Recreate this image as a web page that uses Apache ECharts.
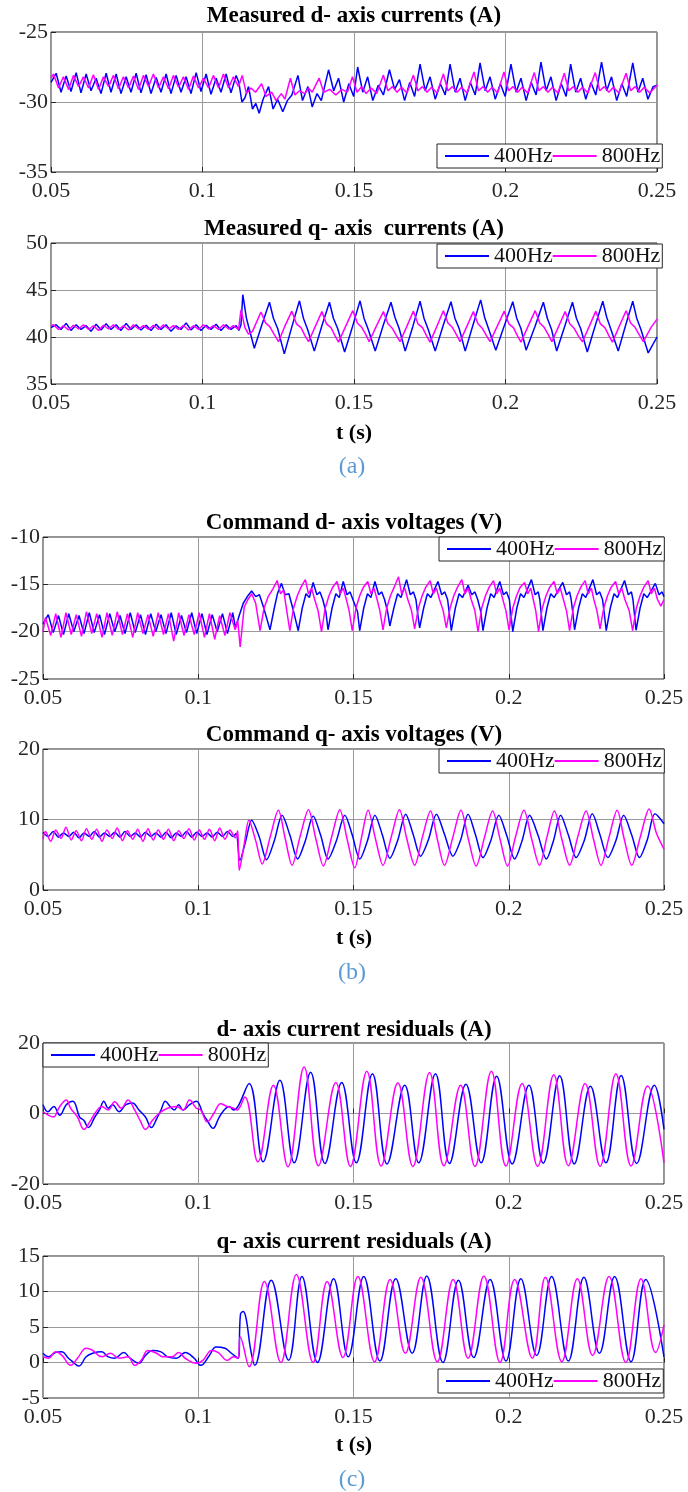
<!DOCTYPE html>
<html>
<head>
<meta charset="utf-8">
<script src="https://cdn.jsdelivr.net/npm/echarts@6/dist/echarts.min.js"></script>
<style>
  html, body { margin: 0; padding: 0; background: #fff; }
  #chart { width: 688px; height: 1492px; }
</style>
</head>
<body>
<div id="chart"></div>
<script>
// ---- data: [t (s), value] ----
const xTickLabels = ['0.05', '0.1', '0.15', '0.2', '0.25'];
const seriesNames = ['400Hz', '800Hz'];
const panelTitles = [
  'Measured d- axis currents (A)',
  'Measured q- axis  currents (A)',
  'Command d- axis voltages (V)',
  'Command q- axis voltages (V)',
  'd- axis current residuals (A)',
  'q- axis current residuals (A)'
];
// [min, max, step] of each y axis
const yTicks = [[-35, -25, 5], [35, 50, 5], [-25, -10, 5], [0, 20, 10], [-20, 20, 20], [-5, 15, 5]];

// (a) measured d-axis current
const dMeas400 = [[0.0500,-28.6],[0.0517,-27.95],[0.0533,-29.3],[0.0550,-28.15],[0.0566,-29.25],[0.0583,-27.9],[0.0599,-29.35],[0.0616,-28.0],[0.0632,-29.2],[0.0649,-28.3],[0.0665,-29.4],[0.0682,-27.95],[0.0698,-29.3],[0.0715,-28.0],[0.0731,-29.4],[0.0748,-28.2],[0.0764,-29.3],[0.0781,-27.95],[0.0797,-29.35],[0.0814,-28.05],[0.0830,-29.4],[0.0847,-28.25],[0.0863,-29.3],[0.0880,-28.0],[0.0896,-29.4],[0.0913,-28.1],[0.0929,-29.3],[0.0946,-28.2],[0.0962,-29.4],[0.0979,-27.9],[0.0995,-29.25],[0.1012,-28.0],[0.1028,-29.45],[0.1045,-28.3],[0.1061,-29.3],[0.1078,-28.0],[0.1094,-29.35],[0.1111,-28.1],[0.1120,-28.6],
  [0.1130,-30.0],[0.1140,-29.7],[0.1152,-28.9],[0.1165,-30.5],[0.1176,-30.1],[0.1187,-30.8],[0.1200,-29.8],[0.1218,-28.9],[0.1233,-30.5],[0.1248,-29.8],[0.1265,-30.7],[0.1280,-29.9],[0.1295,-29.5],[0.1315,-28.1],[0.1330,-29.9],[0.1348,-28.9],[0.1362,-30.35],[0.1378,-29.4],[0.1392,-29.9],
  [0.1416,-27.7],[0.1433,-29.2],[0.1449,-28.3],[0.1466,-30.0],[0.1483,-28.7],[0.1499,-29.6],
  [0.1512,-27.5],[0.1529,-29.3],[0.1545,-28.2],[0.1562,-29.9],[0.1580,-28.8],[0.1597,-29.5],
  [0.1617,-27.7],[0.1634,-29.1],[0.1650,-28.4],[0.1667,-29.9],[0.1684,-28.6],[0.1700,-29.6],
  [0.1718,-27.3],[0.1735,-29.2],[0.1751,-28.2],[0.1768,-29.8],[0.1785,-28.7],[0.1801,-29.5],
  [0.1817,-27.3],[0.1834,-29.3],[0.1850,-28.3],[0.1867,-29.9],[0.1884,-28.6],[0.1900,-29.5],
  [0.1916,-27.2],[0.1933,-29.2],[0.1949,-28.2],[0.1966,-29.8],[0.1983,-28.7],[0.1999,-29.6],
  [0.2018,-27.3],[0.2035,-29.3],[0.2051,-28.3],[0.2068,-29.9],[0.2085,-28.6],[0.2101,-29.5],
  [0.2117,-27.15],[0.2134,-29.2],[0.2150,-28.2],[0.2167,-29.9],[0.2184,-28.7],[0.2200,-29.6],
  [0.2215,-27.3],[0.2232,-29.3],[0.2248,-28.3],[0.2265,-29.8],[0.2282,-28.6],[0.2298,-29.5],
  [0.2317,-27.15],[0.2334,-29.2],[0.2350,-28.2],[0.2367,-29.9],[0.2384,-28.7],[0.2400,-29.6],
  [0.2420,-27.2],[0.2437,-29.3],[0.2453,-28.3],[0.2470,-29.8],[0.2487,-28.9],[0.2500,-28.8]];
const dMeas800 = [[0.0500,-28.3],[0.0508,-28.0],[0.0525,-29.0],[0.0541,-28.2],[0.0558,-29.1],[0.0574,-28.1],[0.0591,-28.9],[0.0607,-28.2],[0.0624,-29.0],[0.0640,-28.05],[0.0657,-29.1],[0.0673,-28.2],[0.0690,-28.9],[0.0706,-28.1],[0.0723,-29.05],[0.0739,-28.2],[0.0756,-29.0],[0.0772,-28.15],[0.0789,-29.1],[0.0805,-28.1],[0.0822,-28.9],[0.0838,-28.0],[0.0855,-29.0],[0.0871,-28.2],[0.0888,-29.05],[0.0904,-28.1],[0.0921,-28.95],[0.0937,-28.2],[0.0954,-29.1],[0.0970,-28.15],[0.0987,-29.0],[0.1003,-28.3],[0.1020,-29.0],[0.1036,-28.1],[0.1053,-29.0],[0.1069,-28.0],[0.1086,-29.0],[0.1102,-28.2],[0.1119,-28.9],[0.1131,-28.1],
  [0.1145,-29.4],[0.1160,-29.0],[0.1175,-29.3],[0.1195,-28.7],[0.1210,-29.6],[0.1228,-29.3],[0.1243,-29.9],[0.1260,-29.4],[0.1272,-29.8],[0.1290,-28.3],[0.1305,-29.5],[0.1320,-29.2],[0.1338,-29.4],[0.1350,-29.0],[0.1362,-29.3],[0.1385,-28.3],[0.1400,-29.3],[0.1420,-29.1],[0.1440,-29.5],[0.1460,-29.1],[0.1478,-29.3],[0.1495,-28.2],
  [0.1510,-29.3],[0.1525,-28.9],[0.1540,-29.4],[0.1557,-29.0],[0.1575,-29.4],
  [0.1597,-28.08],[0.1612,-29.2],[0.1627,-28.9],[0.1642,-29.3],[0.1657,-28.95],[0.1675,-29.35],
  [0.1696,-28.08],[0.1711,-29.2],[0.1726,-28.9],[0.1741,-29.3],[0.1756,-28.95],[0.1774,-29.35],
  [0.1795,-28.0],[0.1810,-29.2],[0.1825,-28.9],[0.1840,-29.3],[0.1855,-28.95],[0.1873,-29.35],
  [0.1896,-27.85],[0.1911,-29.2],[0.1926,-28.9],[0.1941,-29.3],[0.1956,-28.95],[0.1974,-29.35],
  [0.1995,-27.85],[0.2010,-29.2],[0.2025,-28.9],[0.2040,-29.3],[0.2055,-28.95],[0.2073,-29.35],
  [0.2095,-27.9],[0.2110,-29.2],[0.2125,-28.9],[0.2140,-29.3],[0.2155,-28.95],[0.2173,-29.35],
  [0.2194,-27.95],[0.2209,-29.2],[0.2224,-28.9],[0.2239,-29.3],[0.2254,-28.95],[0.2272,-29.35],
  [0.2296,-27.9],[0.2311,-29.2],[0.2326,-28.9],[0.2341,-29.3],[0.2356,-28.95],[0.2374,-29.35],
  [0.2398,-27.95],[0.2413,-29.2],[0.2428,-28.9],[0.2443,-29.3],[0.2458,-28.95],[0.2476,-29.35],[0.2500,-28.8]];

// (a) measured q-axis current
const qMeas400 = [[0.0500,41.0],[0.0517,41.3],[0.0533,40.8],[0.0550,41.45],[0.0566,40.7],[0.0583,41.3],[0.0599,40.8],[0.0616,41.2],[0.0632,40.6],[0.0649,41.35],[0.0665,40.75],[0.0682,41.4],[0.0698,40.8],[0.0715,41.3],[0.0731,40.7],[0.0748,41.45],[0.0764,40.8],[0.0781,41.3],[0.0797,40.75],[0.0814,41.25],[0.0830,40.7],[0.0847,41.35],[0.0863,40.8],[0.0880,41.3],[0.0896,40.6],[0.0913,41.2],[0.0929,40.8],[0.0946,41.5],[0.0962,40.75],[0.0979,41.3],[0.0995,40.7],[0.1012,41.25],[0.1028,40.8],[0.1045,41.35],[0.1061,40.7],[0.1078,41.3],[0.1094,40.8],[0.1111,41.2],[0.1120,40.7],[0.1127,41.3],
  [0.1133,44.5],[0.1145,42.0],[0.1158,40.4],[0.1171,38.8],[0.1196,41.3],[0.1221,43.7],[0.1234,42.0],[0.1248,40.9],[0.1270,38.2],[0.1295,41.1],[0.1320,43.85],[0.1333,42.0],[0.1347,40.8],
  [0.1369,38.5],[0.1394,41.2],[0.1419,43.7],[0.1432,42.0],[0.1446,40.9],[0.1469,38.4],[0.1495,41.1],[0.1520,43.85],[0.1533,42.0],[0.1547,40.8],[0.1570,38.5],[0.1596,41.2],[0.1622,43.7],[0.1635,42.1],[0.1649,40.9],[0.1669,38.5],[0.1694,41.1],[0.1718,43.8],[0.1731,42.0],[0.1745,40.8],[0.1768,38.5],[0.1794,41.2],[0.1820,43.75],[0.1833,42.0],[0.1847,40.9],[0.1867,38.5],[0.1893,41.3],[0.1918,43.95],[0.1931,42.1],[0.1945,40.8],[0.1968,38.6],[0.1996,41.2],[0.2024,43.75],[0.2037,42.0],[0.2051,40.9],[0.2068,38.6],[0.2097,41.1],[0.2125,43.7],[0.2138,42.0],[0.2152,40.8],[0.2169,38.5],[0.2195,41.1],[0.2221,43.7],[0.2234,42.0],[0.2248,40.9],[0.2270,38.4],[0.2296,41.2],[0.2321,43.8],[0.2334,42.1],[0.2348,40.8],[0.2372,38.5],[0.2396,41.2],[0.2420,43.8],[0.2433,42.0],[0.2447,40.8],[0.2471,38.3],[0.2500,40.0]];
const qMeas800 = [[0.0500,41.2],[0.0508,41.3],[0.0525,40.8],[0.0541,41.2],[0.0558,40.75],[0.0574,41.25],[0.0591,40.85],[0.0607,41.3],[0.0624,40.8],[0.0640,41.2],[0.0657,40.7],[0.0673,41.25],[0.0690,40.85],[0.0706,41.3],[0.0723,40.8],[0.0739,41.2],[0.0756,40.75],[0.0772,41.3],[0.0789,40.85],[0.0805,41.2],[0.0822,40.8],[0.0838,41.25],[0.0855,40.8],[0.0871,41.3],[0.0888,40.85],[0.0904,41.2],[0.0921,40.8],[0.0937,41.25],[0.0954,40.75],[0.0970,41.2],[0.0987,40.8],[0.1003,41.3],[0.1020,40.85],[0.1036,41.2],[0.1053,40.8],[0.1069,41.3],[0.1086,40.85],[0.1102,41.2],[0.1119,40.8],
  [0.1127,42.9],[0.1140,41.0],[0.1152,40.3],[0.1165,40.6],[0.1193,42.66],[0.1208,41.5],[0.1222,41.1],[0.1236,40.3],[0.1251,39.5],[0.1271,41.1],
  [0.1295,42.75],[0.1310,41.4],[0.1325,41.0],[0.1339,40.1],[0.1350,39.5],[0.1372,41.1],[0.1394,42.7],[0.1409,41.4],[0.1424,41.0],[0.1438,40.1],[0.1449,39.45],[0.1472,41.1],[0.1496,42.8],[0.1511,41.5],[0.1526,41.0],[0.1540,40.2],[0.1550,39.5],[0.1573,41.1],[0.1597,42.7],[0.1612,41.4],[0.1627,40.9],[0.1641,40.1],[0.1652,39.5],[0.1674,41.1],[0.1696,42.75],[0.1711,41.4],[0.1726,41.0],[0.1740,40.1],[0.1751,39.45],[0.1773,41.1],[0.1795,42.8],[0.1810,41.5],[0.1825,41.0],[0.1839,40.2],[0.1850,39.5],[0.1872,41.1],[0.1894,42.7],[0.1909,41.4],[0.1924,40.9],[0.1938,40.1],[0.1949,39.5],[0.1972,41.1],[0.1996,42.75],[0.2011,41.4],[0.2026,41.0],[0.2040,40.1],[0.2051,39.45],[0.2074,41.1],[0.2098,42.8],[0.2113,41.5],[0.2128,41.0],[0.2142,40.2],[0.2153,39.5],[0.2175,41.1],[0.2197,42.7],[0.2212,41.4],[0.2227,40.9],[0.2241,40.1],[0.2254,39.5],[0.2276,41.1],[0.2298,42.75],[0.2313,41.4],[0.2328,41.0],[0.2342,40.1],[0.2353,39.45],[0.2375,41.1],[0.2398,42.8],[0.2413,41.5],[0.2428,41.0],[0.2442,40.2],[0.2455,39.5],[0.2480,41.0],[0.2500,41.9]];

// (b) command d-axis voltage
const dCmd400 = [[0.0500,-19.2],[0.0517,-18.2],[0.0533,-20.1],[0.0550,-18.3],[0.0566,-20.3],[0.0583,-18.1],[0.0599,-20.0],[0.0616,-18.3],[0.0632,-20.2],[0.0649,-18.0],[0.0665,-20.1],[0.0682,-18.2],[0.0698,-20.3],[0.0715,-18.1],[0.0731,-20.0],[0.0748,-18.3],[0.0764,-20.2],[0.0781,-18.0],[0.0797,-20.1],[0.0814,-18.2],[0.0830,-20.3],[0.0847,-18.1],[0.0863,-20.0],[0.0880,-18.2],[0.0896,-20.2],[0.0913,-18.0],[0.0929,-20.3],[0.0946,-18.3],[0.0962,-20.1],[0.0979,-18.0],[0.0995,-20.2],[0.1012,-18.1],[0.1028,-20.3],[0.1045,-18.2],[0.1061,-20.0],[0.1078,-18.1],[0.1094,-20.2],[0.1111,-18.0],[0.1120,-19.6],
  [0.1132,-18.3],[0.1145,-17.0],[0.1160,-16.2],[0.1172,-15.7],[0.1185,-16.3],[0.1197,-16.1],[0.1210,-17.4],[0.1231,-19.8],[0.1245,-17.5],[0.1255,-16.0],[0.1268,-14.9],[0.1280,-16.1],[0.1292,-16.0],[0.1305,-17.6],
  [0.1322,-19.9],[0.1335,-17.5],[0.1347,-16.0],[0.1358,-16.4],[0.1370,-14.8],[0.1382,-16.1],[0.1392,-15.8],[0.1401,-16.6],[0.1411,-17.9],
  [0.1418,-19.8],[0.1431,-17.5],[0.1443,-16.0],[0.1454,-16.4],[0.1467,-14.7],[0.1479,-16.1],[0.1489,-15.8],[0.1498,-16.6],[0.1513,-17.9],
  [0.1520,-19.9],[0.1533,-17.5],[0.1545,-16.0],[0.1556,-16.4],[0.1569,-14.7],[0.1581,-16.1],[0.1591,-15.8],[0.1600,-16.6],[0.1610,-17.9],
  [0.1617,-19.4],[0.1630,-17.5],[0.1642,-16.0],[0.1653,-16.4],[0.1671,-14.5],[0.1683,-16.1],[0.1693,-15.8],[0.1701,-16.6],[0.1706,-17.9],
  [0.1713,-19.6],[0.1726,-17.5],[0.1738,-16.0],[0.1749,-16.4],[0.1772,-14.7],[0.1784,-16.1],[0.1794,-15.8],[0.1803,-16.6],[0.1808,-17.9],
  [0.1815,-19.9],[0.1828,-17.5],[0.1840,-16.0],[0.1851,-16.4],[0.1869,-15.1],[0.1881,-16.1],[0.1891,-15.8],[0.1900,-16.6],[0.1910,-17.9],
  [0.1917,-19.9],[0.1930,-17.5],[0.1942,-16.0],[0.1953,-16.4],[0.1971,-14.7],[0.1983,-16.1],[0.1993,-15.8],[0.2002,-16.6],[0.2006,-17.9],
  [0.2013,-20.0],[0.2026,-17.5],[0.2038,-16.0],[0.2049,-16.4],[0.2073,-14.5],[0.2085,-16.1],[0.2095,-15.8],[0.2100,-16.6],[0.2104,-17.9],
  [0.2110,-19.9],[0.2123,-17.5],[0.2135,-16.0],[0.2146,-16.4],[0.2174,-14.8],[0.2186,-16.1],[0.2196,-15.8],[0.2201,-16.6],[0.2206,-17.9],
  [0.2212,-19.8],[0.2225,-17.5],[0.2237,-16.0],[0.2248,-16.4],[0.2271,-14.5],[0.2283,-16.1],[0.2293,-15.8],[0.2302,-16.6],[0.2307,-17.9],
  [0.2314,-19.9],[0.2327,-17.5],[0.2339,-16.0],[0.2350,-16.4],[0.2373,-14.6],[0.2385,-16.1],[0.2395,-15.8],[0.2400,-16.6],[0.2404,-17.9],
  [0.2410,-19.85],[0.2423,-17.5],[0.2435,-16.0],[0.2446,-16.4],[0.2472,-14.9],[0.2484,-16.1],[0.2494,-15.8],[0.2500,-16.3]];
const dCmd800 = [[0.0500,-20.0],[0.0508,-18.5],[0.0525,-20.4],[0.0541,-18.1],[0.0558,-20.6],[0.0574,-18.0],[0.0591,-20.3],[0.0607,-18.2],[0.0624,-20.5],[0.0640,-17.9],[0.0657,-20.2],[0.0673,-18.1],[0.0690,-20.6],[0.0706,-18.0],[0.0723,-20.4],[0.0739,-17.9],[0.0756,-20.3],[0.0772,-18.1],[0.0789,-20.6],[0.0805,-18.0],[0.0822,-20.2],[0.0838,-18.2],[0.0855,-20.5],[0.0871,-18.0],[0.0888,-20.3],[0.0904,-18.1],[0.0921,-21.0],[0.0937,-18.0],[0.0954,-20.4],[0.0970,-18.2],[0.0987,-20.3],[0.1003,-18.0],[0.1020,-20.6],[0.1036,-18.1],[0.1053,-20.8],[0.1069,-18.3],[0.1086,-20.4],[0.1102,-18.0],[0.1119,-19.8],[0.1127,-18.8],[0.1135,-21.6],
  [0.1148,-17.4],[0.1160,-16.6],[0.1172,-16.0],[0.1185,-17.0],[0.1199,-19.9],[0.1212,-17.5],[0.1225,-16.3],[0.1240,-15.5],[0.1254,-14.6],[0.1265,-16.0],[0.1275,-15.6],[0.1285,-17.8],
  [0.1295,-19.9],[0.1307,-17.5],[0.1319,-16.2],[0.1331,-15.3],[0.1345,-14.5],[0.1355,-16.0],[0.1365,-15.4],[0.1375,-16.6],[0.1386,-17.8],
  [0.1397,-20.0],[0.1409,-17.5],[0.1421,-16.2],[0.1433,-15.3],[0.1447,-14.7],[0.1457,-16.0],[0.1467,-15.4],[0.1477,-16.6],[0.1486,-17.8],
  [0.1496,-19.9],[0.1508,-17.5],[0.1520,-16.2],[0.1532,-15.3],[0.1546,-14.7],[0.1556,-16.0],[0.1566,-15.4],[0.1576,-16.6],[0.1585,-17.8],
  [0.1595,-19.8],[0.1607,-17.5],[0.1619,-16.2],[0.1631,-15.3],[0.1645,-14.2],[0.1655,-16.0],[0.1665,-15.4],[0.1675,-16.6],[0.1687,-17.8],
  [0.1697,-19.7],[0.1709,-17.5],[0.1721,-16.2],[0.1733,-15.3],[0.1747,-14.6],[0.1757,-16.0],[0.1767,-15.4],[0.1777,-16.6],[0.1789,-17.8],
  [0.1799,-19.6],[0.1811,-17.5],[0.1823,-16.2],[0.1835,-15.3],[0.1849,-14.5],[0.1859,-16.0],[0.1869,-15.4],[0.1879,-16.6],[0.1891,-17.8],
  [0.1901,-20.0],[0.1913,-17.5],[0.1925,-16.2],[0.1937,-15.3],[0.1951,-14.6],[0.1961,-16.0],[0.1971,-15.4],[0.1981,-16.6],[0.1991,-17.8],
  [0.2001,-19.8],[0.2013,-17.5],[0.2025,-16.2],[0.2037,-15.3],[0.2051,-14.8],[0.2061,-16.0],[0.2071,-15.4],[0.2079,-16.6],[0.2087,-17.8],
  [0.2096,-20.0],[0.2108,-17.5],[0.2120,-16.2],[0.2132,-15.3],[0.2146,-14.7],[0.2156,-16.0],[0.2166,-15.4],[0.2176,-16.6],[0.2186,-17.8],
  [0.2196,-19.9],[0.2208,-17.5],[0.2220,-16.2],[0.2232,-15.3],[0.2246,-14.6],[0.2256,-16.0],[0.2266,-15.4],[0.2274,-16.6],[0.2284,-17.8],
  [0.2294,-19.7],[0.2306,-17.5],[0.2318,-16.2],[0.2330,-15.3],[0.2344,-14.7],[0.2354,-16.0],[0.2364,-15.4],[0.2374,-16.6],[0.2388,-17.8],
  [0.2399,-19.9],[0.2411,-17.5],[0.2423,-16.2],[0.2435,-15.3],[0.2449,-14.6],[0.2459,-16.0],[0.2469,-15.4],[0.2479,-16.6],[0.2490,-17.3],[0.2500,-16.6]];

// (b) command q-axis voltage
const qCmd400 = [[0.0500,8.2],[0.0517,7.6],[0.0533,8.3],[0.0550,7.5],[0.0566,8.1],[0.0583,7.6],[0.0599,8.2],[0.0616,7.4],[0.0632,8.1],[0.0649,7.6],[0.0665,8.3],[0.0682,7.5],[0.0698,8.1],[0.0715,7.6],[0.0731,8.2],[0.0748,7.5],[0.0764,8.3],[0.0781,7.6],[0.0797,8.1],[0.0814,7.5],[0.0830,8.2],[0.0847,7.6],[0.0863,8.1],[0.0880,7.5],[0.0896,8.2],[0.0913,7.4],[0.0929,8.1],[0.0946,7.6],[0.0962,8.3],[0.0979,7.5],[0.0995,8.2],[0.1012,7.6],[0.1028,8.1],[0.1045,7.5],[0.1061,8.2],[0.1078,7.6],[0.1094,8.3],[0.1111,7.6],[0.1122,8.0],
  [0.1134,4.2],[0.1152,6.8],[0.1172,9.9],[0.1196,7.6],[0.1220,4.3],[0.1245,7.0],[0.1270,10.6],[0.1295,7.8],[0.1320,4.4],[0.1345,7.0],[0.1370,10.5],[0.1394,7.8],[0.1418,4.4],[0.1445,7.0],[0.1472,10.6],[0.1496,7.8],[0.1520,4.4],[0.1545,7.0],[0.1569,10.6],[0.1593,7.8],[0.1617,4.5],[0.1642,7.0],[0.1668,10.75],[0.1692,7.9],[0.1716,4.8],[0.1741,7.1],[0.1767,10.75],[0.1793,7.9],[0.1820,4.8],[0.1845,7.1],[0.1869,10.75],[0.1893,7.8],[0.1917,4.6],[0.1942,7.0],[0.1968,10.6],[0.1993,7.8],[0.2019,4.4],[0.2043,7.0],[0.2067,10.6],[0.2094,7.8],[0.2121,4.4],[0.2144,7.0],[0.2167,10.6],[0.2192,7.8],[0.2217,4.6],[0.2243,7.0],[0.2269,10.8],[0.2294,7.8],[0.2319,4.6],[0.2345,7.0],[0.2370,10.6],[0.2396,7.8],[0.2421,4.6],[0.2446,7.1],[0.2471,10.8],[0.2500,9.4]];
const qCmd800 = [[0.0500,7.2],[0.0508,8.3],[0.0525,6.9],[0.0541,8.5],[0.0558,7.3],[0.0574,8.9],[0.0591,7.1],[0.0607,8.4],[0.0624,7.0],[0.0640,8.7],[0.0657,7.2],[0.0673,8.6],[0.0690,6.9],[0.0706,8.5],[0.0723,7.3],[0.0739,8.8],[0.0756,7.0],[0.0772,8.4],[0.0789,7.2],[0.0805,8.6],[0.0822,6.9],[0.0838,8.7],[0.0855,7.1],[0.0871,8.5],[0.0888,7.2],[0.0904,8.6],[0.0921,7.0],[0.0937,8.4],[0.0954,7.3],[0.0970,8.7],[0.0987,7.1],[0.1003,8.5],[0.1020,7.2],[0.1036,8.6],[0.1053,7.0],[0.1069,8.8],[0.1086,7.2],[0.1102,8.5],[0.1119,7.4],[0.1127,8.4],
  [0.1132,2.8],[0.1148,6.5],[0.1163,9.9],[0.1185,7.0],[0.1206,3.7],[0.1232,7.6],[0.1258,11.3],[0.1280,7.3],
  [0.1302,3.5],[0.1328,7.6],[0.1355,11.4],[0.1379,7.2],[0.1403,3.4],[0.1430,7.6],[0.1456,11.4],[0.1480,7.1],[0.1504,3.15],[0.1526,7.5],[0.1547,11.3],[0.1571,7.2],[0.1595,3.5],[0.1622,7.6],[0.1648,11.4],[0.1672,7.2],[0.1697,3.5],[0.1722,7.5],[0.1748,11.2],[0.1770,7.2],[0.1793,3.5],[0.1820,7.5],[0.1846,11.3],[0.1870,7.2],[0.1895,3.4],[0.1922,7.5],[0.1948,11.2],[0.1972,7.2],[0.1996,3.4],[0.2022,7.6],[0.2049,11.3],[0.2074,7.2],[0.2099,3.5],[0.2123,7.5],[0.2147,11.2],[0.2171,7.2],[0.2196,3.5],[0.2222,7.5],[0.2249,11.2],[0.2273,7.2],[0.2297,3.5],[0.2323,7.5],[0.2349,11.3],[0.2372,7.2],[0.2396,3.5],[0.2424,7.6],[0.2452,11.5],[0.2476,8.0],[0.2500,5.8]];

// (c) d-axis current residual
const dRes400 = [[0.0500,2.5],[0.0516,0.5],[0.0535,2.0],[0.0554,-0.5],[0.0575,2.5],[0.0596,3.5],[0.0618,-1.0],[0.0632,-2.0],[0.0646,-4.0],[0.0667,-1.0],[0.0682,1.0],[0.0696,3.5],[0.0710,1.5],[0.0724,2.5],[0.0745,0.5],[0.0767,2.5],[0.0788,3.0],[0.0809,1.0],[0.0830,-1.0],[0.0849,-4.0],[0.0866,-1.5],[0.0880,1.0],[0.0894,3.5],[0.0909,2.0],[0.0923,1.0],[0.0937,2.5],[0.0951,1.0],[0.0972,2.5],[0.0994,3.5],[0.1015,0.0],[0.1029,-2.0],[0.1048,-4.2],[0.1065,-1.5],[0.1079,0.5],[0.1100,2.0],[0.1114,1.0],[0.1128,2.0],
  [0.1164,8.5],[0.1209,-13.7],[0.1263,9.4],[0.1309,-14.0],[0.1362,11.7],[0.1408,-14.2],[0.1462,8.8],[0.1509,-14.0],[0.1561,11.3],[0.1608,-14.3],[0.1665,8.0],[0.1710,-14.0],[0.1764,11.3],[0.1809,-14.2],[0.1862,8.3],[0.1911,-14.0],[0.1961,10.6],[0.2011,-14.3],[0.2065,8.0],[0.2111,-14.1],[0.2164,10.7],[0.2211,-14.3],[0.2263,7.7],[0.2313,-14.0],[0.2362,10.8],[0.2412,-14.2],[0.2469,8.0],[0.2500,-4.5]];
const dRes800 = [[0.0500,0.5],[0.0518,-0.5],[0.0533,-1.0],[0.0554,2.0],[0.0575,3.8],[0.0589,1.5],[0.0611,-1.0],[0.0632,-4.5],[0.0653,-2.0],[0.0667,0.0],[0.0689,2.0],[0.0710,1.0],[0.0731,3.3],[0.0752,1.5],[0.0774,3.8],[0.0795,1.0],[0.0813,-2.0],[0.0830,-4.5],[0.0852,-2.0],[0.0873,0.0],[0.0901,1.5],[0.0930,2.0],[0.0951,1.0],[0.0972,3.8],[0.0994,1.5],[0.1008,1.0],[0.1029,-2.4],[0.1050,0.0],[0.1072,2.8],[0.1093,2.0],[0.1114,1.5],[0.1125,1.0],
  [0.1150,4.7],[0.1192,-13.7],[0.1242,8.0],[0.1289,-15.1],[0.1341,13.2],[0.1387,-14.8],[0.1443,8.8],[0.1490,-15.0],[0.1543,12.0],[0.1589,-14.9],[0.1643,8.7],[0.1691,-15.0],[0.1745,11.6],[0.1791,-14.8],[0.1845,8.0],[0.1891,-15.0],[0.1944,12.0],[0.1991,-14.9],[0.2043,8.5],[0.2093,-15.0],[0.2145,11.0],[0.2192,-14.8],[0.2246,8.5],[0.2294,-15.0],[0.2345,11.3],[0.2394,-14.9],[0.2447,7.8],[0.2500,-14.0]];

// (c) q-axis current residual
const qRes400 = [[0.0500,1.3],[0.0518,0.8],[0.0540,1.4],[0.0561,1.5],[0.0582,0.6],[0.0596,0.1],[0.0615,-0.5],[0.0639,0.8],[0.0660,1.3],[0.0689,1.5],[0.0710,0.8],[0.0731,0.6],[0.0760,1.4],[0.0781,0.6],[0.0809,-0.1],[0.0830,1.0],[0.0852,1.7],[0.0880,1.5],[0.0901,0.8],[0.0930,0.6],[0.0958,1.4],[0.0987,0.6],[0.1008,-0.4],[0.1036,1.0],[0.1057,2.2],[0.1086,2.0],[0.1107,1.3],[0.1128,0.6],
  [0.1136,6.8],[0.1145,7.2],[0.1155,6.0],[0.1168,2.0],[0.1182,-0.4],[0.1235,11.6],[0.1291,0.3],[0.1334,12.1],[0.1384,0.0],[0.1436,11.8],[0.1483,0.8],[0.1533,12.1],[0.1585,0.2],[0.1636,11.8],[0.1689,1.3],[0.1736,12.2],[0.1788,0.0],[0.1838,11.6],[0.1887,0.7],[0.1940,11.7],[0.1991,0.2],[0.2039,11.8],[0.2090,1.0],[0.2138,12.1],[0.2192,0.2],[0.2242,12.0],[0.2292,1.3],[0.2341,12.1],[0.2394,0.1],[0.2441,11.7],[0.2500,0.8]];
const qRes800 = [[0.0500,0.8],[0.0518,0.6],[0.0540,1.5],[0.0561,1.0],[0.0589,-0.4],[0.0611,0.6],[0.0639,2.0],[0.0660,1.7],[0.0689,0.8],[0.0717,1.3],[0.0745,0.6],[0.0774,0.8],[0.0795,-0.4],[0.0816,0.3],[0.0838,1.7],[0.0866,1.3],[0.0887,0.8],[0.0916,0.8],[0.0937,1.4],[0.0958,0.6],[0.0994,-0.1],[0.1015,0.3],[0.1043,1.7],[0.1065,1.4],[0.1093,0.3],[0.1114,0.8],[0.1128,0.6],
  [0.1135,3.6],[0.1164,-0.6],[0.1213,11.4],[0.1266,0.0],[0.1316,12.4],[0.1370,0.0],[0.1415,11.4],[0.1466,0.7],[0.1514,12.1],[0.1568,0.1],[0.1618,11.7],[0.1667,1.3],[0.1717,12.0],[0.1770,0.1],[0.1821,11.7],[0.1869,0.6],[0.1920,12.2],[0.1972,0.0],[0.2019,11.7],[0.2076,0.6],[0.2118,12.0],[0.2171,0.1],[0.2221,11.8],[0.2270,1.0],[0.2323,12.1],[0.2377,0.0],[0.2426,11.8],[0.2473,1.4],[0.2500,5.3]];

const panelData = [
  [dMeas400, dMeas800], [qMeas400, qMeas800],
  [dCmd400, dCmd800], [qCmd400, qCmd800],
  [dRes400, dRes800], [qRes400, qRes800]
];

// ---- layout (pixels) ----
const FONT = 'Liberation Serif';
const COLORS = ['#0000ff', '#ff00ff'];
const layout = [
  { left: 51, top: 32,   width: 606, height: 140, leg: [437, 144],  titleY: 16,   smooth: false },
  { left: 51, top: 243,  width: 606, height: 141, leg: [437, 244],  titleY: 229,  smooth: false },
  { left: 43, top: 537,  width: 621, height: 142, leg: [439, 537],  titleY: 523,  smooth: false },
  { left: 43, top: 749,  width: 621, height: 141, leg: [439, 749],  titleY: 735,  smooth: 0.3 },
  { left: 43, top: 1043, width: 621, height: 141, leg: [43, 1043],  titleY: 1030, smooth: 0.4 },
  { left: 43, top: 1256, width: 621, height: 142, leg: [438, 1369], titleY: 1242, smooth: 0.4 }
];

const chart = echarts.init(document.getElementById('chart'));

const grids = layout.map(g => ({
  left: g.left, top: g.top, width: g.width, height: g.height,
  show: true, borderColor: '#262626', borderWidth: 1, backgroundColor: '#fff',
  outerBoundsMode: 'none'
}));

const xAxes = layout.map((g, i) => ({
  type: 'value', gridIndex: i, min: 0.05, max: 0.25, interval: 0.05,
  axisLine: { show: false },
  axisTick: { show: true, inside: true, length: 5, lineStyle: { color: '#262626' } },
  splitLine: { show: true, lineStyle: { color: '#9a9a9a', width: 1 } },
  axisLabel: {
    margin: 8, fontFamily: FONT, fontSize: 22, color: '#262626',
    formatter: v => xTickLabels[Math.round((v - 0.05) / 0.05)]
  }
}));

const yAxes = layout.map((g, i) => ({
  type: 'value', gridIndex: i, min: yTicks[i][0], max: yTicks[i][1], interval: yTicks[i][2],
  axisLine: { show: false },
  axisTick: { show: true, inside: true, length: 5, lineStyle: { color: '#262626' } },
  splitLine: { show: true, lineStyle: { color: '#9a9a9a', width: 1 } },
  axisLabel: { margin: 3, fontFamily: FONT, fontSize: 22, color: '#262626' }
}));

const legends = layout.map(g => ({
  left: g.leg[0], top: g.leg[1],
  data: seriesNames, selectedMode: false,
  icon: 'rect', itemWidth: 44, itemHeight: 2, itemGap: 0,
  padding: [1, 2, 1, 8],
  borderColor: '#262626', borderWidth: 1, backgroundColor: '#fff',
  textStyle: { fontFamily: FONT, fontSize: 22, color: '#111' }
}));

const series = [];
panelData.forEach((pair, i) => {
  pair.forEach((d, k) => {
    series.push({
      type: 'line', name: seriesNames[k], xAxisIndex: i, yAxisIndex: i,
      data: d, symbol: 'none', showSymbol: false, smooth: layout[i].smooth,
      color: COLORS[k], lineStyle: { color: COLORS[k], width: 1.5 }, z: 2 + k
    });
  });
});

const textEl = (x, y, text, font, fill) => ({
  type: 'text', x: x, y: y, silent: true,
  style: { text: text, font: font, fill: fill, textAlign: 'center', textVerticalAlign: 'middle', align: 'center', verticalAlign: 'middle' }
});

const graphics = [];
layout.forEach((g, i) => {
  graphics.push(textEl(354, g.titleY, panelTitles[i], 'bold 23px "Liberation Serif"', '#000'));
});
[433, 938, 1445].forEach(y => graphics.push(textEl(354, y, 't (s)', 'bold 22px "Liberation Serif"', '#000')));
[['(a)', 467], ['(b)', 973], ['(c)', 1480]].forEach(p =>
  graphics.push(textEl(352, p[1], p[0], '24px "Liberation Serif"', '#5b9bd5')));

chart.setOption({
  animation: false,
  backgroundColor: '#fff',
  grid: grids,
  xAxis: xAxes,
  yAxis: yAxes,
  legend: legends,
  series: series,
  graphic: { elements: graphics }
});
</script>
</body>
</html>
